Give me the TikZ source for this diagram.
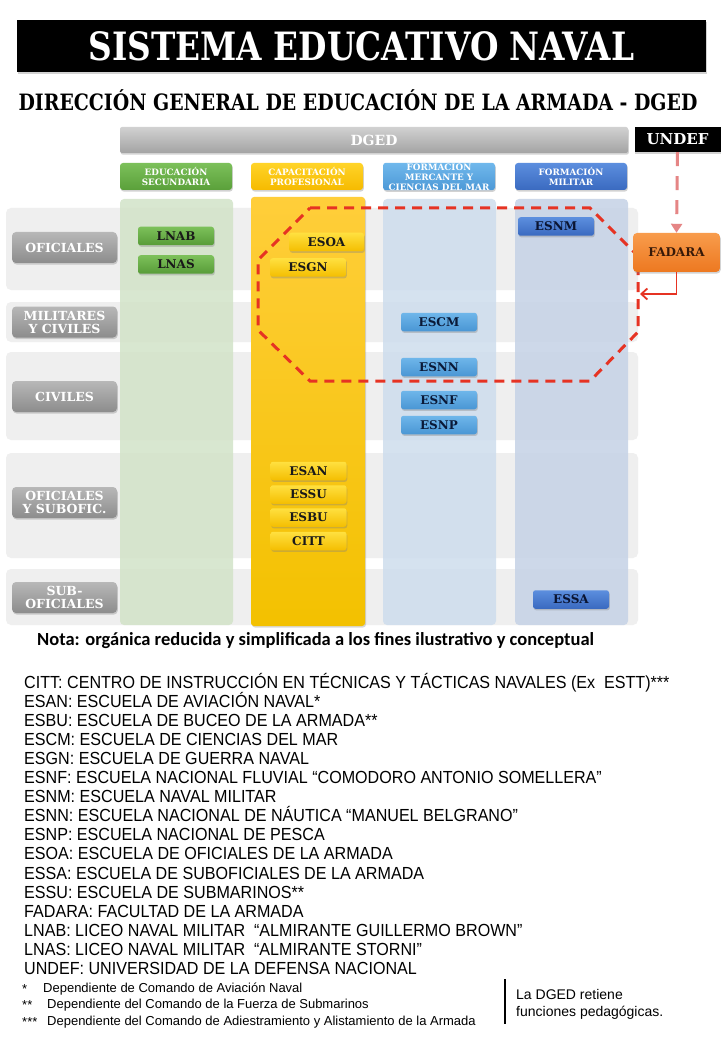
\documentclass[tikz,border=0pt]{standalone}
\usepackage{fontspec}
\setmainfont{Liberation Sans}
\newfontfamily\slabn{DejaVu Serif}[UprightFont={* Bold},FakeStretch=0.84]
\newfontfamily\slabw{DejaVu Serif}[UprightFont={* Bold}]
\newfontfamily\legf{Liberation Sans}[FakeStretch=0.92]
\newfontfamily\footf{Liberation Sans}
\newfontfamily\notef{Carlito}[UprightFont={* Bold}]
\usetikzlibrary{shadows,arrows.meta}
\definecolor{bandc}{HTML}{EFEFEF}
\definecolor{gcol}{HTML}{D2E3C8}
\definecolor{lbcol}{HTML}{CEDDED}
\definecolor{bcol}{HTML}{C5D2E6}
\definecolor{ytop}{HTML}{FFCE3A}
\definecolor{ybot}{HTML}{F3C100}
\definecolor{redd}{HTML}{E63323}
\definecolor{pinkd}{HTML}{E58585}
\tikzset{
  shad/.style={drop shadow={opacity=0.35,shadow xshift=0.8pt,shadow yshift=-1.6pt}},
  band/.style={fill=bandc, rounded corners=5pt},
  colbg/.style={fill=#1, fill opacity=0.85, rounded corners=4pt},
  colhead/.style={rounded corners=3pt, minimum width=112pt, minimum height=27pt, inner sep=0pt,
    text=white, align=center, font=\slabw\fontsize{8.8}{9.6}\selectfont, shad},
  rowlab/.style={rounded corners=4pt, minimum width=105pt, minimum height=31pt, inner sep=0pt,
    top color=black!28, bottom color=black!45, text=white, align=center,
    font=\slabw\fontsize{12.5}{13}\selectfont, shad},
  sch/.style={rounded corners=2.5pt, minimum width=76pt, minimum height=18.5pt, inner sep=0pt,
    font=\slabw\fontsize{12}{12}\selectfont, shad},
  gsch/.style={sch, top color={rgb,255:red,124;green,192;blue,90}, bottom color={rgb,255:red,88;green,156;blue,56}, text=black!90},
  ysch/.style={sch, top color={rgb,255:red,255;green,224;blue,64}, bottom color={rgb,255:red,244;green,190;blue,0}, text=black!90},
  lbsch/.style={sch, top color={rgb,255:red,110;green,182;blue,234}, bottom color={rgb,255:red,74;green,150;blue,212}, text={rgb,255:red,10;green,25;blue,55}},
  bsch/.style={sch, top color={rgb,255:red,92;green,142;blue,222}, bottom color={rgb,255:red,58;green,106;blue,192}, text={rgb,255:red,10;green,20;blue,50}},
  legline/.style={anchor=base west, inner sep=0pt, font=\legf\fontsize{17.5}{17.5}\selectfont},
  footline/.style={anchor=base west, inner sep=0pt, font=\footf\fontsize{13}{13}\selectfont},
  oct/.style={draw=redd, line width=3pt, dash pattern=on 10pt off 7pt},
}
\begin{document}
\begin{tikzpicture}[x=1pt,y=-1pt]
\useasboundingbox (0,0) rectangle (720,1040);
\fill[white] (0,0) rectangle (720,1040);

% title
\node[fill=black, minimum width=689pt, minimum height=52pt, inner sep=0pt, shad,
  text=white, font=\slabn\fontsize{39}{39}\selectfont] (title) at (361.5,46) {SISTEMA EDUCATIVO NAVAL};
\node[inner sep=0pt, font=\slabn\fontsize{22.5}{22.5}\selectfont] (sub) at (358,100)
  {DIRECCIÓN GENERAL DE EDUCACIÓN DE LA ARMADA - DGED};

% top bars
\node[top color=black!18, bottom color=black!36, minimum width=508pt, minimum height=26pt, inner sep=0pt,
  rounded corners=2pt, shad, text=white, font=\slabw\fontsize{14}{14}\selectfont] (dged) at (374,140) {DGED};
\node[fill=black, minimum width=86pt, minimum height=25pt, inner sep=0pt, shad,
  text=white, font=\slabw\fontsize{15}{15}\selectfont] (undef) at (677.5,139.5) {UNDEF};

% row bands
\fill[band] (6,208) rectangle (638,290);
\fill[band] (6,302) rectangle (638,342);
\fill[band] (6,352) rectangle (638,440);
\fill[band] (6,453) rectangle (638,558);
\fill[band] (6,569) rectangle (638,625);

% column backgrounds
\fill[colbg=gcol] (120,199) rectangle (233,625);
\fill[colbg=lbcol] (383,199) rectangle (496,625);
\fill[colbg=bcol] (515,199) rectangle (628,625);
\shade[top color=ytop, bottom color=ybot, rounded corners=3pt, drop shadow={opacity=0.3,shadow xshift=1pt,shadow yshift=-1.5pt}] (251,197) rectangle (365,626);

% column headers
\node[colhead, top color={rgb,255:red,124;green,192;blue,90}, bottom color={rgb,255:red,90;green,160;blue,58}] (h1) at (176,176.5) {EDUCACIÓN\\SECUNDARIA};
\node[colhead, top color={rgb,255:red,255;green,212;blue,40}, bottom color={rgb,255:red,246;green,186;blue,0}] (h2) at (307,176.5) {CAPACITACIÓN\\PROFESIONAL};
\node[colhead, top color={rgb,255:red,112;green,184;blue,236}, bottom color={rgb,255:red,76;green,152;blue,214}] (h3) at (439,176.5) {FORMACIÓN\\MERCANTE Y\\CIENCIAS DEL MAR};
\node[colhead, top color={rgb,255:red,92;green,142;blue,222}, bottom color={rgb,255:red,58;green,106;blue,192}] (h4) at (571,176.5) {FORMACIÓN\\MILITAR};

% row labels
\node[rowlab] (r1) at (64.5,247.5) {OFICIALES};
\node[rowlab] (r2) at (64.5,322) {MILITARES\\Y CIVILES};
\node[rowlab] (r3) at (64.5,396.5) {CIVILES};
\node[rowlab] (r4) at (64.5,502.5) {OFICIALES\\Y SUBOFIC.};
\node[rowlab] (r5) at (64.5,597.5) {SUB-\\OFICIALES};

% dashed octagon
\draw[oct] (310,208) -- (590,208) -- (638,256) -- (638,332) -- (590,381) -- (310,381) -- (258,330) -- (258,260) -- cycle;

% schools
\node[gsch] (lnab) at (176,236) {LNAB};
\node[gsch] (lnas) at (176,264.5) {LNAS};
\node[ysch, minimum width=75pt] (esoa) at (326.5,242) {ESOA};
\node[ysch] (esgn) at (308,267.5) {ESGN};
\node[ysch] (esan) at (308.5,471) {ESAN};
\node[ysch] (essu) at (308.5,494.5) {ESSU};
\node[ysch] (esbu) at (308.5,517.5) {ESBU};
\node[ysch] (citt) at (308.5,541) {CITT};
\node[lbsch] (escm) at (439,322) {ESCM};
\node[lbsch] (esnn) at (439,367) {ESNN};
\node[lbsch] (esnf) at (439,400) {ESNF};
\node[lbsch] (esnp) at (439,425) {ESNP};
\node[bsch] (esnm) at (556,226.5) {ESNM};
\node[bsch] (essa) at (571,599.5) {ESSA};
\node[rounded corners=4pt, minimum width=87pt, minimum height=39pt, inner sep=0pt, shad,
  top color={rgb,255:red,248;green,156;blue,76}, bottom color={rgb,255:red,237;green,120;blue,32},
  text={rgb,255:red,55;green,25;blue,8}, font=\slabw\fontsize{12}{12}\selectfont] (fadara) at (676.5,252.5) {FADARA};

% arrows
\draw[pinkd, line width=3pt, dash pattern=on 14pt off 10pt, -{Triangle[length=9pt,width=11pt]}]
  (undef.south) -- (fadara.north);
\coordinate (ret) at (640,294);
\draw[redd, line width=1.8pt, -{Straight Barb[length=6pt,width=11pt]}] (fadara.south) |- (ret);

% note
\node[anchor=base west, inner sep=0pt, font=\notef\fontsize{18.5}{18.5}\selectfont] (nota) at (37,645)
  {Nota: orgánica reducida y simplificada a los fines ilustrativo y conceptual};

% legend
\node[legline] (l1) at (24,688) {CITT: CENTRO DE INSTRUCCIÓN EN TÉCNICAS Y TÁCTICAS NAVALES (Ex\ \ ESTT)***};
\node[legline] (l2) at (24,707.1) {ESAN: ESCUELA DE AVIACIÓN NAVAL*};
\node[legline] (l3) at (24,726.2) {ESBU: ESCUELA DE BUCEO DE LA ARMADA**};
\node[legline] (l4) at (24,745.3) {ESCM: ESCUELA DE CIENCIAS DEL MAR};
\node[legline] (l5) at (24,764.4) {ESGN: ESCUELA DE GUERRA NAVAL};
\node[legline] (l6) at (24,783.5) {ESNF: ESCUELA NACIONAL FLUVIAL “COMODORO ANTONIO SOMELLERA”};
\node[legline] (l7) at (24,802.6) {ESNM: ESCUELA NAVAL MILITAR};
\node[legline] (l8) at (24,821.7) {ESNN: ESCUELA NACIONAL DE NÁUTICA “MANUEL BELGRANO”};
\node[legline] (l9) at (24,840.8) {ESNP: ESCUELA NACIONAL DE PESCA};
\node[legline] (l10) at (24,859.9) {ESOA: ESCUELA DE OFICIALES DE LA ARMADA};
\node[legline] (l11) at (24,879) {ESSA: ESCUELA DE SUBOFICIALES DE LA ARMADA};
\node[legline] (l12) at (24,898.1) {ESSU: ESCUELA DE SUBMARINOS**};
\node[legline] (l13) at (24,917.2) {FADARA: FACULTAD DE LA ARMADA};
\node[legline] (l14) at (24,936.3) {LNAB: LICEO NAVAL MILITAR\ \ “ALMIRANTE GUILLERMO BROWN”};
\node[legline] (l15) at (24,955.4) {LNAS: LICEO NAVAL MILITAR\ \ “ALMIRANTE STORNI”};
\node[legline] (l16) at (24,974.5) {UNDEF: UNIVERSIDAD DE LA DEFENSA NACIONAL};

% footnotes
\node[footline] (s1) at (22,993) {*};
\node[footline] (f1) at (43,992) {Dependiente de Comando de Aviación Naval};
\node[footline] (s2) at (22,1009) {**};
\node[footline] (f2) at (47,1008) {Dependiente del Comando de la Fuerza de Submarinos};
\node[footline] (s3) at (22,1026) {***};
\node[footline] (f3) at (47,1025) {Dependiente del Comando de Adiestramiento y Alistamiento de la Armada};

\coordinate (bar1) at (505,979);
\coordinate (bar2) at (505,1024);
\draw[line width=2.5pt] (bar1) -- (bar2);
\node[footline, font=\footf\fontsize{14}{14}\selectfont] (p1) at (516,999) {La DGED retiene};
\node[footline, font=\footf\fontsize{14}{14}\selectfont] (p2) at (516,1016) {funciones pedagógicas.};
\end{tikzpicture}
\end{document}
